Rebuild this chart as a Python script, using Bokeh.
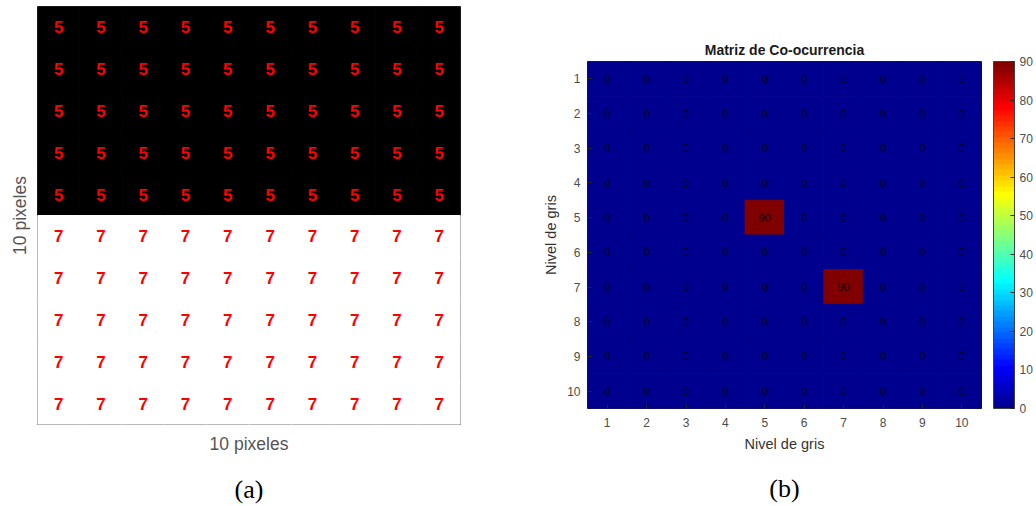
import numpy as np
from bokeh.plotting import figure
from bokeh.layouts import row, column
from bokeh.models import (ColumnDataSource, LinearColorMapper, ColorBar, FixedTicker,
                          LinearAxis, Range1d)
from bokeh.core.properties import value
from bokeh.embed import file_html
from bokeh.resources import INLINE

# ---------------- data ----------------
# (a) 10x10 image, gray level of every pixel (row 1 = top)
image_rows = [
    [5, 5, 5, 5, 5, 5, 5, 5, 5, 5],
    [5, 5, 5, 5, 5, 5, 5, 5, 5, 5],
    [5, 5, 5, 5, 5, 5, 5, 5, 5, 5],
    [5, 5, 5, 5, 5, 5, 5, 5, 5, 5],
    [5, 5, 5, 5, 5, 5, 5, 5, 5, 5],
    [7, 7, 7, 7, 7, 7, 7, 7, 7, 7],
    [7, 7, 7, 7, 7, 7, 7, 7, 7, 7],
    [7, 7, 7, 7, 7, 7, 7, 7, 7, 7],
    [7, 7, 7, 7, 7, 7, 7, 7, 7, 7],
    [7, 7, 7, 7, 7, 7, 7, 7, 7, 7],
]
level_colors = {5: "#000000", 7: "#ffffff"}

# (b) co-occurrence matrix (row = gray level i, column = gray level j)
cooc_rows = [
    [0, 0, 0, 0, 0, 0, 0, 0, 0, 0],
    [0, 0, 0, 0, 0, 0, 0, 0, 0, 0],
    [0, 0, 0, 0, 0, 0, 0, 0, 0, 0],
    [0, 0, 0, 0, 0, 0, 0, 0, 0, 0],
    [0, 0, 0, 0, 90, 0, 0, 0, 0, 0],
    [0, 0, 0, 0, 0, 0, 0, 0, 0, 0],
    [0, 0, 0, 0, 0, 0, 90, 0, 0, 0],
    [0, 0, 0, 0, 0, 0, 0, 0, 0, 0],
    [0, 0, 0, 0, 0, 0, 0, 0, 0, 0],
    [0, 0, 0, 0, 0, 0, 0, 0, 0, 0],
]
gray_levels = [1, 2, 3, 4, 5, 6, 7, 8, 9, 10]
colorbar_ticks = [0, 10, 20, 30, 40, 50, 60, 70, 80, 90]
cooc_low, cooc_high = 0, 90
captions = ["(a)", "(b)"]


def jet(m=64):
    n = int(np.ceil(m / 4))
    u = np.concatenate([np.arange(1, n + 1) / n, np.ones(n - 1), np.arange(n, 0, -1) / n])
    g = int(np.ceil(n / 2)) - (1 if m % 4 == 1 else 0) + np.arange(1, len(u) + 1)
    r = g + n
    b = g - n
    J = np.zeros((m, 3))
    for k in range(len(u)):
        if 1 <= r[k] <= m:
            J[r[k] - 1, 0] = u[k]
        if 1 <= g[k] <= m:
            J[g[k] - 1, 1] = u[k]
        if 1 <= b[k] <= m:
            J[b[k] - 1, 2] = u[k]
    return ["#%02x%02x%02x" % tuple(int(round(c * 255)) for c in rc) for rc in J]


JET = jet(64)
SANS_NAME = "Liberation Sans"
SANS = value(SANS_NAME)
SERIF_NAME = "Liberation Serif"


def caption_axis(text, standoff, align):
    return LinearAxis(ticker=FixedTicker(ticks=[]), axis_line_color=None,
                      major_tick_in=0, major_tick_out=0, minor_tick_in=0, minor_tick_out=0,
                      axis_label=text, axis_label_text_font=SERIF_NAME,
                      axis_label_text_font_size="26px", axis_label_text_font_style="normal",
                      axis_label_text_color="#000000", axis_label_standoff=standoff,
                      axis_label_text_align=align)


# ---------------- panel (a) ----------------
ax, ay, av, acol = [], [], [], []
for i, r in enumerate(image_rows):
    for j, v in enumerate(r):
        ax.append(j + 1)
        ay.append(i + 1)
        av.append(str(v))
        acol.append(level_colors[v])
src_a = ColumnDataSource(dict(x=ax, y=ay, v=av, c=acol))

pa = figure(width=528, height=506, x_range=Range1d(0.5, 10.5), y_range=Range1d(10.5, 0.5),
            output_backend="svg", toolbar_location=None,
            min_border_left=37, min_border_right=68, min_border_top=6, min_border_bottom=79)
pa.rect("x", "y", 1, 1, source=src_a, fill_color="c", line_color="c", line_width=1)
pa.text("x", "y", text="v", source=src_a, text_color="#ff0000", text_font=SANS,
        text_font_style="bold", text_font_size="17px", text_align="center",
        text_baseline="middle")
pa.grid.visible = False
pa.outline_line_color = "#404040"
for axis in (pa.xaxis[0], pa.yaxis[0]):
    axis.ticker = FixedTicker(ticks=[])
    axis.axis_line_color = None
    axis.major_tick_out = 0
    axis.major_tick_in = 0
    axis.minor_tick_out = 0
    axis.minor_tick_in = 0
    axis.axis_label = "10 pixeles"
    axis.axis_label_text_font = SANS_NAME
    axis.axis_label_text_font_style = "normal"
    axis.axis_label_text_font_size = "17.5px"
    axis.axis_label_text_color = "#555555"
pa.xaxis[0].axis_label_standoff = 9
pa.yaxis[0].axis_label_standoff = 8
pa.add_layout(caption_axis(captions[0], 18, "right"), "below")

# ---------------- panel (b) ----------------
bx, by, bv, bt = [], [], [], []
for i, r in enumerate(cooc_rows):
    for j, v in enumerate(r):
        bx.append(gray_levels[j])
        by.append(gray_levels[i])
        bv.append(v)
        bt.append(str(v))
src_b = ColumnDataSource(dict(x=bx, y=by, v=bv, t=bt))
mapper = LinearColorMapper(palette=JET, low=cooc_low, high=cooc_high)

pb = figure(width=508, height=506, x_range=Range1d(0.5, 10.5), y_range=Range1d(10.5, 0.5),
            output_backend="svg", toolbar_location=None,
            min_border_left=59, min_border_right=55, min_border_top=61, min_border_bottom=98)
pb.rect("x", "y", 1, 1, source=src_b, fill_color={"field": "v", "transform": mapper},
        line_color={"field": "v", "transform": mapper}, line_width=1)
pb.text("x", "y", text="t", source=src_b, text_color="#000000", text_alpha=0.85,
        text_font=SANS, text_font_size="11px", text_align="center", text_baseline="middle")
pb.grid.visible = False
pb.outline_line_color = "#262626"
pb.title.text = "Matriz de Co-ocurrencia"
pb.title.align = "center"
pb.title.text_font = SANS_NAME
pb.title.text_font_size = "14px"
pb.title.text_font_style = "bold"
pb.title.text_color = "#1a1a1a"
pb.title.standoff = 8

for axis in (pb.xaxis[0], pb.yaxis[0]):
    axis.ticker = FixedTicker(ticks=gray_levels)
    axis.axis_line_color = None
    axis.major_tick_out = 0
    axis.major_tick_in = 4
    axis.minor_tick_out = 0
    axis.minor_tick_in = 0
    axis.major_tick_line_color = "#262626"
    axis.major_label_text_font = SANS_NAME
    axis.major_label_text_font_size = "12px"
    axis.major_label_text_color = "#4d4d4d"
    axis.axis_label = "Nivel de gris"
    axis.axis_label_text_font = SANS_NAME
    axis.axis_label_text_font_style = "normal"
    axis.axis_label_text_font_size = "14.5px"
    axis.axis_label_text_color = "#333333"
pb.xaxis[0].major_label_standoff = 9
pb.xaxis[0].axis_label_standoff = 6
pb.yaxis[0].major_label_standoff = 7
pb.yaxis[0].axis_label_standoff = 5

cb = ColorBar(color_mapper=mapper, ticker=FixedTicker(ticks=colorbar_ticks),
              width=21, height=347, padding=0, margin=0, location=(12, 0),
              major_tick_in=4, major_tick_out=0, major_tick_line_color="#262626",
              minor_tick_line_color=None,
              bar_line_color="#404040", border_line_color=None,
              background_fill_alpha=0, label_standoff=5,
              major_label_text_font=SANS_NAME, major_label_text_font_size="12px",
              major_label_text_color="#4d4d4d")
pb.add_layout(cb, "right")
pb.add_layout(caption_axis(captions[1], 19, "left"), "below")

layout = row(column(pa), column(pb), spacing=0)
open("out.html", "w").write(file_html(layout, INLINE))
